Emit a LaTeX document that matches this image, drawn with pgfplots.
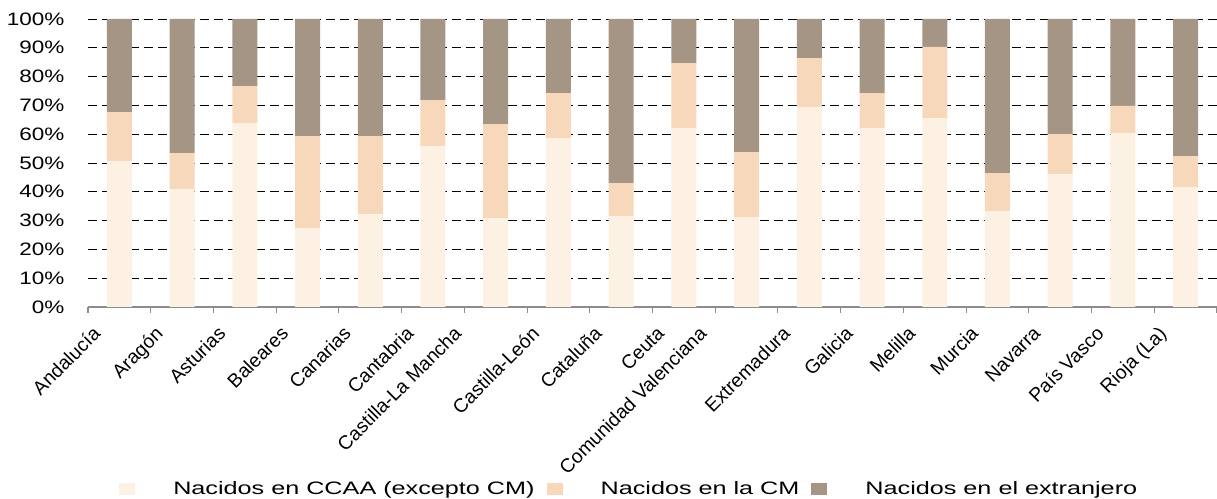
\documentclass[border=0pt]{standalone}
\usepackage{pgfplots}
\pgfplotsset{compat=1.18}
\usepackage{pgfplotstable}
\usepackage{fontspec}
\setmainfont{Liberation Sans}
\newfontfamily\yfont{Liberation Sans}[FakeStretch=1.25]
\newfontfamily\legfont{Liberation Sans}[FakeStretch=1.4]

\definecolor{cBeige}{HTML}{FCF1E3}
\definecolor{cPeach}{HTML}{F8D8BA}
\definecolor{cTaupe}{HTML}{A59584}

% shifts a rotated tick label to the left (long labels sit lower in the original)
\newcommand{\shiftlab}[2]{\raisebox{#1}[\height][\depth]{#2\hspace{#1}}}

% x = category position, A = otras CCAA, B = CM, C = extranjero
\pgfplotstableread{
x    A     B     C
0.5  50.6  17.1  32.3
1.5  40.9  12.5  46.6
2.5  63.8  12.9  23.3
3.5  27.3  32.0  40.7
4.5  32.2  27.1  40.7
5.5  55.9  15.9  28.2
6.5  30.8  32.7  36.5
7.5  58.6  15.7  25.7
8.5  31.5  11.5  57.0
9.5  62.1  22.6  15.3
10.5 31.2  22.6  46.2
11.5 69.4  17.0  13.6
12.5 62.1  12.2  25.7
13.5 65.6  24.7  9.7
14.5 33.3  13.2  53.5
15.5 46.1  13.9  40.0
16.5 60.4  9.4   30.2
17.5 41.6  10.8  47.6
}\datatable

\begin{document}
\begin{tikzpicture}
\useasboundingbox (0,0) rectangle (912.75pt,374.25pt);
\begin{axis}[
    at={(66pt,144pt)}, anchor=south west,
    scale only axis,
    width=846.75pt, height=216pt,
    ybar stacked,
    bar width=18.75pt,
    xmin=0, xmax=18,
    ymin=0, ymax=100,
    axis x line*=bottom,
    axis y line*=left,
    y axis line style={draw=none},
    x axis line style={draw=gray!90, line width=0.8pt, -},
    xtick={0,...,18},
    xticklabels={Andalucía, Aragón, Asturias, Baleares, Canarias, Cantabria,
      {\shiftlab{8pt}{Castilla-La Mancha}}, Castilla-León, Cataluña, Ceuta,
      {\shiftlab{11pt}{Comunidad Valenciana}},
      Extremadura, Galicia, Melilla, Murcia, Navarra, País Vasco, Rioja (La), {}},
    xtick style={draw=gray!90, line width=0.8pt},
    tick align=outside,
    major tick length=4.5pt,
    xticklabel style={rotate=45, anchor=north east, inner sep=0pt,
      font=\fontsize{14.5pt}{16pt}\selectfont, xshift=-4.5pt, yshift=-8pt},
    ytick={0,10,...,100},
    yticklabels={0\%,10\%,20\%,30\%,40\%,50\%,60\%,70\%,80\%,90\%,100\%},
    ytick style={draw=none},
    yticklabel style={font=\yfont\fontsize{13.5pt}{16pt}\selectfont, inner sep=0pt, xshift=-13pt},
    ymajorgrids,
    major grid style={black, line width=0.7pt, dash pattern=on 6.5pt off 4pt},
    every axis plot/.append style={draw=none},
    legend columns=3,
    legend image code/.code={\fill[#1] (0pt,-4.5pt) rectangle (12pt,4.5pt);},
    legend style={draw=none, fill=none, inner sep=0pt,
      at={(axis description cs:0.02746,-0.632)}, anchor=west,
      font=\legfont\fontsize{13.5pt}{16pt}\selectfont,
      nodes={inner xsep=0pt},
      /tikz/every odd column/.append style={column sep=28.5pt},
      /tikz/every even column/.append style={column sep=9pt}},
]
\addplot[fill=cBeige] table[x=x, y=A] {\datatable};
\addplot[fill=cPeach] table[x=x, y=B] {\datatable};
\addplot[fill=cTaupe] table[x=x, y=C] {\datatable};
\legend{Nacidos en CCAA (excepto CM), Nacidos en la CM, Nacidos en el extranjero}
\end{axis}
\end{tikzpicture}
\end{document}
